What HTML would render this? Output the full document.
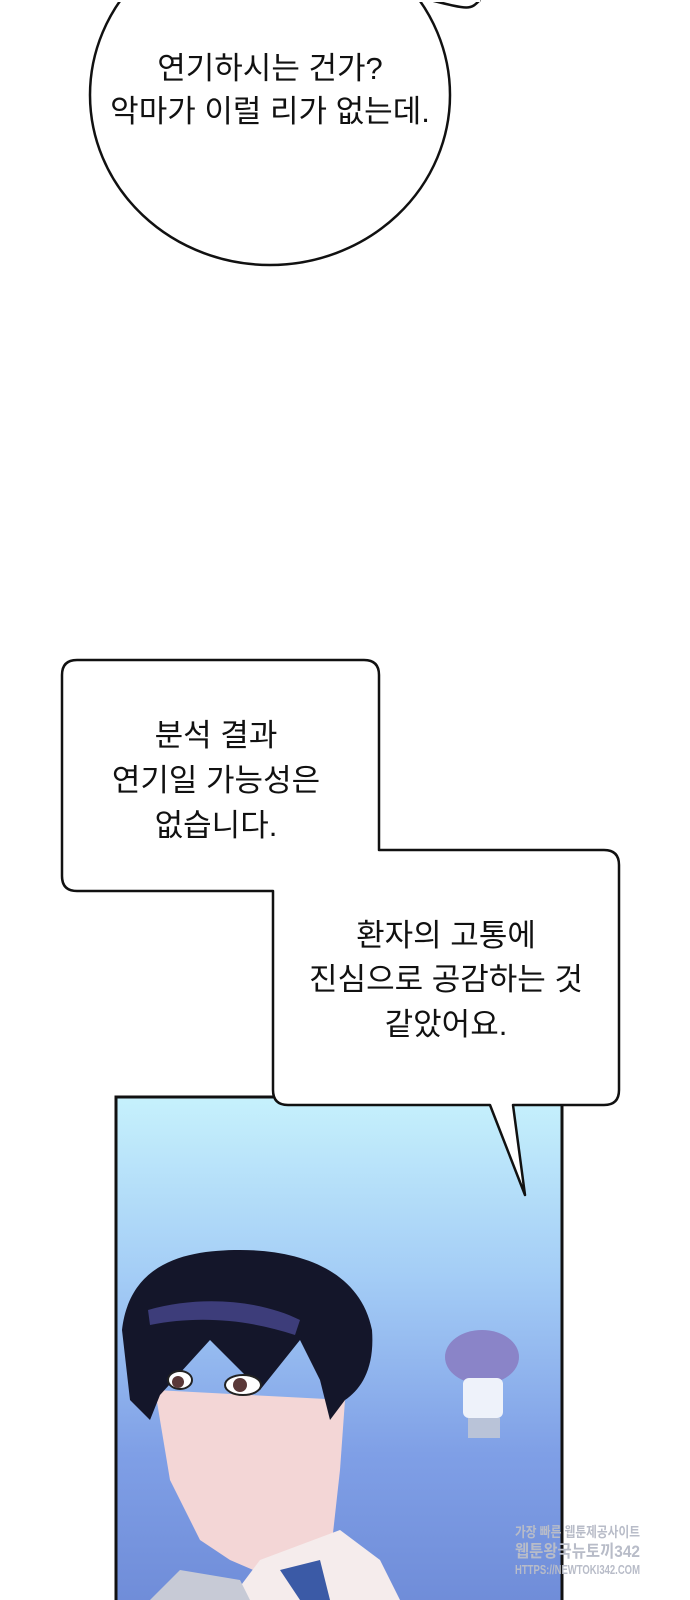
<!DOCTYPE html>
<html><head><meta charset="utf-8"><style>
html,body{margin:0;padding:0;background:#fff;}
body{width:690px;height:1600px;position:relative;overflow:hidden;}
svg{position:absolute;left:0;top:0;}
</style></head><body>
<svg width="690" height="1600" viewBox="0 0 690 1600" xmlns="http://www.w3.org/2000/svg">
<defs>
<linearGradient id="bg" x1="0" y1="0" x2="0" y2="1">
<stop offset="0" stop-color="#c6f1fc"/>
<stop offset="0.35" stop-color="#a4cdf6"/>
<stop offset="0.7" stop-color="#7f9fe6"/>
<stop offset="1" stop-color="#6f8cd8"/>
</linearGradient>
</defs>
<path d="M430,0 C470,10 470,10 480,0" fill="#fff" stroke="#111" stroke-width="2.5"/>
<ellipse cx="270" cy="95" rx="180" ry="170" fill="#fff" stroke="#111" stroke-width="2.5"/>
<rect x="80" y="0" width="400" height="2" fill="#fff"/>
<g font-family="'Liberation Sans','Noto Sans CJK KR',sans-serif" font-size="31" fill="#111" text-anchor="middle">
<text x="270" y="79">연기하시는 건가?</text>
<text x="270" y="122">악마가 이럴 리가 없는데.</text>
</g>
<rect x="116" y="1097" width="446" height="510" fill="url(#bg)" stroke="#111" stroke-width="3"/>
<path d="M155,1390 L170,1480 L200,1540 L230,1560 L300,1590 L330,1560 L340,1470 L345,1400 Z" fill="#f3d6d6"/>
<path d="M260,1560 L230,1600 L400,1600 L380,1560 L340,1530 Z" fill="#f5ecec"/>
<path d="M150,1600 L180,1570 L240,1580 L250,1600Z" fill="#c7cad6"/>
<path d="M280,1570 L300,1600 L330,1600 L320,1560Z" fill="#3b5aa6"/>
<path d="M122,1330 C130,1260 190,1250 240,1250 C300,1250 360,1270 372,1330 C375,1370 360,1390 345,1400 L330,1420 L320,1380 L300,1340 L260,1390 L210,1340 L160,1395 L150,1420 L130,1400 Z" fill="#14162a"/>
<path d="M148,1310 C200,1295 260,1300 300,1320 L295,1335 C250,1320 200,1315 150,1325 Z" fill="#3d3d7a"/>
<ellipse cx="180" cy="1380" rx="12" ry="9" fill="#fff" stroke="#222" stroke-width="2"/>
<circle cx="178" cy="1382" r="6" fill="#5a3838"/>
<ellipse cx="243" cy="1385" rx="18" ry="10" fill="#fff" stroke="#222" stroke-width="2"/>
<circle cx="240" cy="1385" r="7" fill="#5a3838"/>
<ellipse cx="482" cy="1357" rx="37" ry="27" fill="#8a84c8"/>
<rect x="463" y="1378" width="40" height="40" rx="6" fill="#eef2fa"/>
<rect x="468" y="1418" width="32" height="20" fill="#b9c3d8"/>
<g font-family="'Liberation Sans','Noto Sans CJK KR',sans-serif" fill="#b8bcc8" font-weight="bold">
<text x="515" y="1537" font-size="14" textLength="125" lengthAdjust="spacingAndGlyphs">가장 빠른 웹툰제공사이트</text>
<text x="515" y="1557" font-size="17" textLength="125" lengthAdjust="spacingAndGlyphs">웹툰왕국뉴토끼342</text>
<text x="515" y="1574" font-size="13" textLength="125" lengthAdjust="spacingAndGlyphs">HTTPS://NEWTOKI342.COM</text>
</g>
<path d="M77,660 L364,660 Q379,660 379,675 L379,850 L604,850 Q619,850 619,865 L619,1090 Q619,1105 604,1105 L513,1105 L525,1195 L490,1105 L288,1105 Q273,1105 273,1090 L273,891 L77,891 Q62,891 62,876 L62,675 Q62,660 77,660 Z" fill="#fff" stroke="#111" stroke-width="2.5" stroke-linejoin="round"/>
<g font-family="'Liberation Sans','Noto Sans CJK KR',sans-serif" font-size="31" fill="#111" text-anchor="middle">
<text x="216" y="746">분석 결과</text>
<text x="216" y="791">연기일 가능성은</text>
<text x="216" y="836">없습니다.</text>
<text x="446" y="946">환자의 고통에</text>
<text x="446" y="990">진심으로 공감하는 것</text>
<text x="446" y="1035">같았어요.</text>
</g>
</svg>
</body></html>
